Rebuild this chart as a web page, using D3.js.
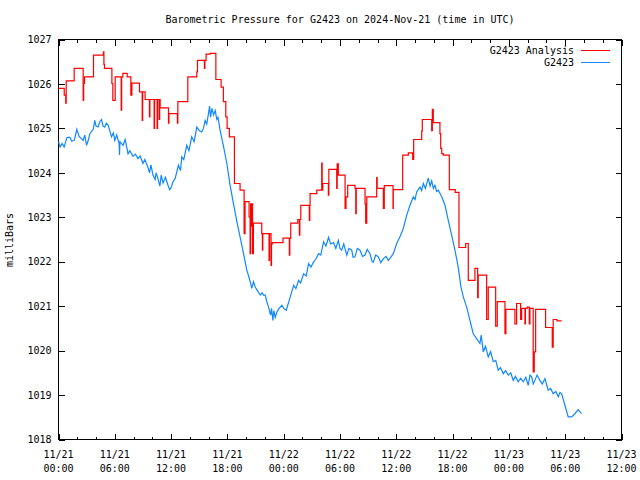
<!DOCTYPE html>
<html><head><meta charset="utf-8">
<script src="https://cdn.jsdelivr.net/npm/d3@7"></script>
<style>
html,body{margin:0;padding:0;background:#fff;}
text{font-family:"DejaVu Sans Mono","Liberation Mono",monospace;font-size:10px;fill:#000;}
</style></head><body>
<svg id="c" width="640" height="480"></svg>
<script>
const titleText = "Barometric Pressure for G2423 on 2024-Nov-21 (time in UTC)";
const yLabel = "milliBars";
const seriesNames = ["G2423 Analysis", "G2423"];
const seriesColors = ["#ff0000", "#1088ff"];
const yTicks = [1018,1019,1020,1021,1022,1023,1024,1025,1026,1027];
const xMajorHours = [0,6,12,18,24,30,36,42,48,54,60];
const xMinorHours = [2,4,8,10,14,16,20,22,26,28,32,34,38,40,44,46,50,52,56,58];
const xTickDates = ["11/21","11/21","11/21","11/21","11/22","11/22","11/22","11/22","11/23","11/23","11/23"];
const xTickTimes = ["00:00","06:00","12:00","18:00","00:00","06:00","12:00","18:00","00:00","06:00","12:00"];

// [hours since 2024-11-21 00:00 UTC, pressure mbar]
const analysisData = [
[0.00,1025.90],[0.61,1025.75],[0.77,1025.57],[0.82,1026.07],[1.67,1026.35],[2.63,1025.63],[2.68,1026.01],[2.77,1026.16],
[3.73,1026.65],[4.79,1026.72],[4.84,1026.44],[4.90,1026.35],[5.69,1026.01],[5.79,1025.63],[6.04,1026.16],[6.68,1025.41],
[6.73,1026.16],[6.86,1026.24],[7.32,1026.16],[7.71,1025.75],[7.82,1026.02],[8.63,1025.82],[8.92,1025.18],[8.97,1025.82],
[9.23,1025.65],[9.69,1025.26],[9.74,1025.65],[10.19,1025.00],[10.24,1025.65],[10.51,1025.00],[10.56,1025.65],[10.73,1025.20],
[10.78,1025.65],[10.83,1025.46],[11.72,1025.12],[11.77,1025.33],[12.67,1025.12],[12.72,1025.60],[13.78,1026.16],[14.74,1026.27],
[14.81,1026.53],[15.55,1026.35],[15.60,1026.53],[15.73,1026.67],[16.16,1026.69],[16.77,1026.10],[17.33,1025.93],[17.57,1025.60],
[17.83,1025.26],[17.97,1025.00],[18.21,1024.81],[18.75,1023.76],[19.35,1023.61],[19.78,1022.63],[19.88,1023.35],[20.31,1023.01],
[20.42,1022.18],[20.47,1023.30],[20.53,1022.80],[20.60,1023.30],[20.68,1022.18],[20.77,1022.87],[21.66,1022.63],[21.73,1022.26],
[21.77,1022.63],[22.44,1022.03],[22.49,1022.63],[22.65,1021.92],[22.70,1022.40],[22.79,1022.43],[23.93,1022.53],[24.60,1022.15],
[24.65,1022.53],[24.75,1022.87],[25.50,1022.95],[25.67,1022.60],[25.72,1022.95],[25.82,1023.27],[26.73,1022.93],[26.78,1023.27],
[26.81,1023.53],[27.52,1023.61],[28.05,1024.22],[28.10,1023.61],[28.16,1023.76],[28.76,1023.50],[28.81,1024.08],[29.65,1023.65],
[29.70,1024.20],[29.82,1023.95],[30.54,1023.20],[30.64,1023.46],[30.82,1023.72],[31.60,1023.65],[31.68,1023.08],[31.73,1023.65],
[32.67,1023.30],[32.74,1022.87],[32.85,1023.46],[33.91,1023.89],[33.96,1023.65],[34.62,1023.20],[34.72,1023.71],[35.65,1023.20],
[35.68,1023.62],[36.68,1024.40],[37.28,1024.45],[37.75,1024.30],[37.85,1024.75],[38.71,1024.94],[38.77,1025.20],[39.77,1024.95],
[39.84,1025.43],[39.94,1025.13],[40.65,1024.88],[40.73,1024.55],[40.84,1024.43],[41.01,1024.40],[41.65,1023.62],[42.28,1023.56],
[42.68,1022.32],[43.39,1022.41],[43.67,1021.58],[44.38,1021.85],[44.67,1021.19],[44.73,1021.70],[45.63,1020.70],[45.80,1021.43],
[46.59,1020.55],[46.76,1021.10],[47.58,1020.38],[47.68,1020.93],[48.64,1020.60],[48.82,1021.06],[49.25,1020.70],[49.36,1020.95],
[49.71,1020.60],[49.76,1020.95],[49.95,1020.98],[50.17,1020.60],[50.24,1020.95],[50.59,1019.52],[50.70,1019.97],[50.85,1020.93],
[51.91,1020.52],[52.62,1020.08],[52.72,1020.70],[53.12,1020.67],[53.62,1020.67]
];

const observedData = [
[0.00,1024.70],[0.18,1024.58],[0.39,1024.66],[0.60,1024.58],[0.89,1024.79],[1.20,1024.80],[1.42,1024.71],[1.70,1024.74],
[1.95,1024.98],[2.20,1024.82],[2.63,1024.73],[2.80,1024.85],[2.99,1024.62],[3.20,1024.75],[3.34,1024.88],[3.70,1024.98],
[3.87,1025.18],[4.00,1025.05],[4.22,1025.03],[4.40,1025.15],[4.58,1025.20],[4.75,1025.05],[4.93,1025.03],[5.10,1025.12],
[5.29,1025.07],[5.50,1024.92],[5.65,1024.81],[5.85,1024.90],[6.00,1024.73],[6.20,1024.85],[6.46,1024.66],[6.50,1024.40],
[6.55,1024.70],[6.88,1024.62],[7.10,1024.75],[7.41,1024.43],[7.60,1024.50],[7.94,1024.37],[8.20,1024.42],[8.47,1024.32],
[8.70,1024.38],[9.00,1024.21],[9.20,1024.30],[9.54,1024.12],[9.70,1024.00],[9.85,1024.18],[10.07,1023.95],[10.30,1023.85],
[10.40,1024.00],[10.60,1023.87],[10.80,1023.70],[10.95,1023.95],[11.14,1023.77],[11.40,1023.90],[11.67,1023.72],[11.85,1023.62],
[12.03,1023.68],[12.20,1023.80],[12.43,1023.87],[12.78,1024.17],[13.00,1024.05],[13.14,1024.36],[13.35,1024.30],[13.67,1024.62],
[13.90,1024.50],[14.20,1024.81],[14.45,1024.70],[14.74,1025.03],[15.00,1024.95],[15.27,1024.92],[15.45,1025.00],[15.63,1025.18],
[15.80,1025.10],[15.98,1025.33],[16.10,1025.50],[16.20,1025.25],[16.35,1025.45],[16.52,1025.30],[16.70,1025.40],[16.87,1025.20],
[17.00,1025.25],[17.23,1024.95],[17.58,1024.60],[17.94,1024.21],[18.29,1023.72],[18.65,1023.30],[19.01,1022.90],[19.36,1022.55],
[19.72,1022.18],[20.07,1021.81],[20.30,1021.65],[20.43,1021.55],[20.60,1021.40],[20.78,1021.55],[20.96,1021.43],[21.20,1021.35],
[21.50,1021.25],[21.70,1021.30],[21.85,1021.25],[22.03,1021.25],[22.20,1021.10],[22.39,1020.98],[22.60,1020.80],[22.70,1020.95],
[22.85,1020.68],[22.95,1020.90],[23.10,1020.75],[23.28,1020.87],[23.50,1020.95],[23.81,1021.02],[24.00,1020.95],[24.27,1020.91],
[24.70,1021.21],[25.06,1021.47],[25.30,1021.40],[25.59,1021.58],[25.80,1021.52],[26.12,1021.73],[26.40,1021.68],[26.65,1021.96],
[26.90,1021.88],[27.18,1021.99],[27.40,1022.05],[27.72,1022.18],[27.95,1022.15],[28.25,1022.45],[28.50,1022.35],[28.78,1022.55],
[29.00,1022.40],[29.31,1022.43],[29.55,1022.30],[29.82,1022.48],[30.00,1022.30],[30.18,1022.26],[30.40,1022.40],[30.72,1022.15],
[30.95,1022.30],[31.25,1022.26],[31.40,1022.10],[31.60,1022.11],[31.85,1022.30],[32.13,1022.26],[32.40,1022.12],[32.67,1022.15],
[32.90,1022.28],[33.20,1022.18],[33.40,1022.02],[33.55,1021.99],[33.80,1022.15],[34.08,1022.11],[34.35,1021.98],[34.62,1022.07],
[34.90,1022.12],[35.15,1022.03],[35.40,1022.10],[35.68,1022.18],[36.04,1022.41],[36.39,1022.56],[36.75,1022.75],[37.11,1023.05],
[37.46,1023.27],[37.81,1023.46],[38.00,1023.40],[38.17,1023.57],[38.52,1023.68],[38.70,1023.60],[38.88,1023.76],[39.10,1023.65],
[39.41,1023.88],[39.60,1023.70],[39.77,1023.82],[39.95,1023.65],[40.12,1023.72],[40.30,1023.58],[40.48,1023.61],[40.84,1023.46],
[41.19,1023.27],[41.54,1022.93],[41.90,1022.60],[42.25,1022.26],[42.60,1021.88],[42.89,1021.43],[43.14,1021.21],[43.50,1020.98],
[43.85,1020.68],[44.20,1020.38],[44.56,1020.27],[44.91,1020.16],[45.05,1020.35],[45.27,1019.97],[45.50,1020.10],[45.80,1019.86],
[46.05,1019.98],[46.33,1019.75],[46.60,1019.78],[46.86,1019.56],[47.10,1019.62],[47.40,1019.48],[47.65,1019.55],[47.93,1019.45],
[48.20,1019.50],[48.46,1019.33],[48.70,1019.42],[48.99,1019.30],[49.25,1019.38],[49.53,1019.30],[49.80,1019.40],[50.06,1019.22],
[50.25,1019.45],[50.42,1019.41],[50.60,1019.25],[50.77,1019.33],[51.00,1019.45],[51.30,1019.33],[51.55,1019.25],[51.84,1019.37],
[52.19,1019.11],[52.45,1019.15],[52.72,1019.03],[53.00,1019.08],[53.26,1018.96],[53.45,1019.06],[53.62,1019.03],[53.97,1018.77],
[54.32,1018.51],[54.68,1018.51],[55.03,1018.58],[55.38,1018.67],[55.74,1018.58]
];

const startTime = Date.UTC(2024,10,21,0,0);
const toDate = h => new Date(startTime + h*3600000);

const svg = d3.select("#c");
const L = 58.5, R = 621.5, T = 39.5, B = 439.5;
const x = d3.scaleUtc().domain([toDate(0), toDate(60)]).range([L, R]);
const y = d3.scaleLinear().domain([1018, 1027]).range([B, T]);

svg.append("text").attr("x", 340).attr("y", 23).attr("text-anchor","middle").text(titleText);
svg.append("text").attr("transform","translate(13,240) rotate(-90)").attr("text-anchor","middle").text(yLabel);

svg.append("rect").attr("x",L).attr("y",T).attr("width",R-L).attr("height",B-T)
  .attr("fill","none").attr("stroke","#000").attr("stroke-width",1).attr("shape-rendering","crispEdges");

function styleAxis(g){
  g.select(".domain").remove();
  g.selectAll("line").attr("stroke","#000").attr("shape-rendering","crispEdges");
  g.selectAll("text").style("font-family",'"DejaVu Sans Mono","Liberation Mono",monospace').style("font-size","10px");
}
const gxb = svg.append("g").attr("transform",`translate(0,${B})`)
  .call(d3.axisBottom(x).tickValues(xMajorHours.map(toDate)).tickSize(-6).tickFormat(""));
styleAxis(gxb);
const gxbm = svg.append("g").attr("transform",`translate(0,${B})`)
  .call(d3.axisBottom(x).tickValues(xMinorHours.map(toDate)).tickSize(-3).tickFormat(""));
styleAxis(gxbm);
const gxt = svg.append("g").attr("transform",`translate(0,${T})`)
  .call(d3.axisTop(x).tickValues(xMajorHours.map(toDate)).tickSize(-6).tickFormat(""));
styleAxis(gxt);
const gxtm = svg.append("g").attr("transform",`translate(0,${T})`)
  .call(d3.axisTop(x).tickValues(xMinorHours.map(toDate)).tickSize(-3).tickFormat(""));
styleAxis(gxtm);
const xl = svg.append("g");
xMajorHours.forEach((h,i)=>{
  const t = xl.append("text").attr("x", x(toDate(h))).attr("y", B+18).attr("text-anchor","middle");
  t.append("tspan").attr("x", x(toDate(h))).text(xTickDates[i]);
  t.append("tspan").attr("x", x(toDate(h))).attr("dy", 14).text(xTickTimes[i]);
});
const gyl = svg.append("g").attr("transform",`translate(${L},0)`)
  .call(d3.axisLeft(y).tickValues(yTicks).tickSize(-6).tickPadding(7).tickFormat(d3.format("d")));
styleAxis(gyl);
const gyr = svg.append("g").attr("transform",`translate(${R},0)`)
  .call(d3.axisRight(y).tickValues(yTicks).tickSize(-6).tickFormat(""));
styleAxis(gyr);

const redLine = d3.line().x(d=>x(toDate(d[0]))).y(d=>y(d[1])).curve(d3.curveStepAfter);
const blueLine = d3.line().x(d=>x(toDate(d[0]))).y(d=>y(d[1]));
svg.append("path").datum(observedData).attr("d", blueLine).attr("fill","none")
  .attr("stroke", seriesColors[1]).attr("stroke-width",1.2);
svg.append("path").datum(analysisData).attr("d", redLine).attr("fill","none")
  .attr("stroke", seriesColors[0]).attr("stroke-width",1.2);

const legY = [50, 62.5];
seriesNames.forEach((n,i)=>{
  svg.append("text").attr("x",574).attr("y",legY[i]+3.5).attr("text-anchor","end").text(n);
  svg.append("line").attr("x1",581).attr("x2",610).attr("y1",legY[i]).attr("y2",legY[i])
    .attr("stroke",seriesColors[i]).attr("stroke-width",1).attr("shape-rendering","crispEdges");
});
</script>
</body></html>
